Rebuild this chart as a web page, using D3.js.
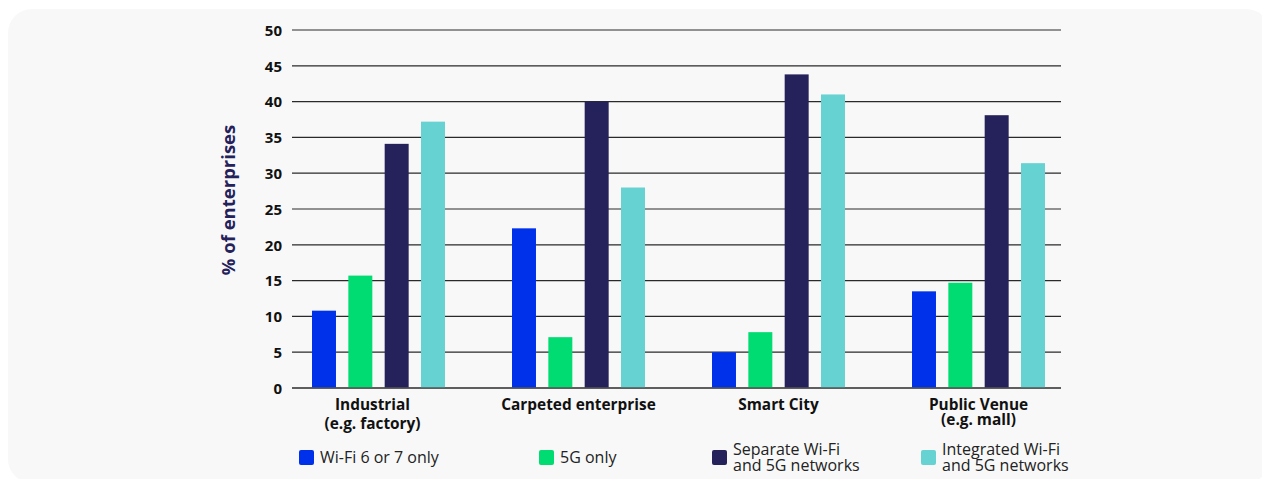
<!DOCTYPE html>
<html>
<head>
<meta charset="utf-8">
<script src="https://cdn.jsdelivr.net/npm/d3@7/dist/d3.min.js"></script>
<style>
  html, body { margin: 0; padding: 0; background: #ffffff; }
  svg { display: block; }
</style>
</head>
<body>
<svg id="chart" width="1262" height="479"></svg>
<script>
const categories = ["Industrial\n(e.g. factory)", "Carpeted enterprise", "Smart City", "Public Venue\n(e.g. mall)"];
const seriesNames = ["Wi-Fi 6 or 7 only", "5G only", "Separate Wi-Fi\nand 5G networks", "Integrated Wi-Fi\nand 5G networks"];
const wifiOnly = [10.8, 22.3, 5.0, 13.5];
const fiveGOnly = [15.7, 7.1, 7.8, 14.7];
const separate = [34.1, 40.0, 43.8, 38.1];
const integrated = [37.2, 28.0, 41.0, 31.4];
const yTicks = [0, 5, 10, 15, 20, 25, 30, 35, 40, 45, 50];
const yTitle = "% of enterprises";

const colors = ["#0031ea", "#00dc72", "#25215a", "#66d2d1"];
const seriesValues = [wifiOnly, fiveGOnly, separate, integrated];
const FONT = "'Open Sans', 'Noto Sans', sans-serif";

const svg = d3.select("#chart");

// panel background
svg.append("rect").attr("x", 8).attr("y", 9).attr("width", 1262).attr("height", 474)
  .attr("rx", 24).attr("fill", "#f8f8f8");

const y = d3.scaleLinear().domain([0, 50]).range([388, 30]);
const x0 = d3.scaleBand().domain(categories).range([312, 1045]).paddingInner(0.335).paddingOuter(0);
const x1 = d3.scaleBand().domain(seriesNames).range([0, x0.bandwidth()]).paddingInner(0.34).paddingOuter(0);

const gridLeft = 292, gridRight = 1061;

// grid lines
svg.append("g").selectAll("line").data(yTicks).join("line")
  .attr("x1", gridLeft).attr("x2", gridRight)
  .attr("y1", d => y(d)).attr("y2", d => y(d))
  .attr("stroke", d => d === 0 ? "#555" : "#2a2a2a")
  .attr("stroke-width", d => d === 0 ? 1.5 : 1.2);

// y axis labels via d3 axis
const yAxis = d3.axisLeft(y).tickValues(yTicks).tickSize(0).tickPadding(0);
const gy = svg.append("g").attr("transform", "translate(282,0)").call(yAxis);
gy.select(".domain").remove();
gy.selectAll("text").attr("font-family", FONT).attr("font-weight", 700)
  .attr("font-size", 15).attr("fill", "#111").attr("dy", "0.35em");

// bars
const groups = svg.append("g").selectAll("g").data(categories).join("g")
  .attr("transform", d => `translate(${x0(d)},0)`);
groups.selectAll("rect").data((c, ci) => seriesNames.map((s, si) => ({ s, si, v: seriesValues[si][ci] })))
  .join("rect")
  .attr("x", d => x1(d.s)).attr("width", x1.bandwidth())
  .attr("y", d => y(d.v)).attr("height", d => y(0) - y(d.v))
  .attr("fill", d => colors[d.si]);

// redraw baseline on top
svg.append("line").attr("x1", gridLeft).attr("x2", gridRight).attr("y1", y(0)).attr("y2", y(0))
  .attr("stroke", "#555").attr("stroke-width", 1.5);

// category labels
const lineGaps = [19, 19, 19, 15];
const labelShift = [-6, 0, 0, 0];
categories.forEach((c, i) => {
  const lines = c.split("\n");
  const t = svg.append("text")
    .attr("x", x0(c) + x0.bandwidth() / 2 + labelShift[i]).attr("y", 410)
    .attr("text-anchor", "middle").attr("font-family", FONT).attr("font-weight", 700)
    .attr("font-size", 15.4).attr("fill", "#111");
  lines.forEach((l, li) => {
    t.append("tspan").attr("x", x0(c) + x0.bandwidth() / 2 + labelShift[i])
      .attr("dy", li === 0 ? 0 : lineGaps[i]).text(l);
  });
});

// y title
svg.append("text").attr("transform", "translate(230,200) rotate(-90)")
  .attr("text-anchor", "middle").attr("dominant-baseline", "middle")
  .attr("font-family", FONT).attr("font-weight", 700).attr("font-size", 18.5)
  .attr("fill", "#25215a").text(yTitle);

// legend
const legendX = [299, 539, 712, 921];
seriesNames.forEach((s, i) => {
  const g = svg.append("g").attr("transform", `translate(${legendX[i]},450)`);
  g.append("rect").attr("width", 15).attr("height", 15).attr("rx", 2).attr("fill", colors[i]);
  const lines = s.split("\n");
  const t = g.append("text").attr("font-family", FONT).attr("font-size", 16).attr("fill", "#222")
    .attr("x", 21);
  if (lines.length === 1) {
    t.append("tspan").attr("x", 21).attr("y", 13).text(lines[0]);
  } else {
    lines.forEach((l, li) => t.append("tspan").attr("x", 21).attr("y", 5 + li * 16).text(l));
  }
});
</script>
</body>
</html>
